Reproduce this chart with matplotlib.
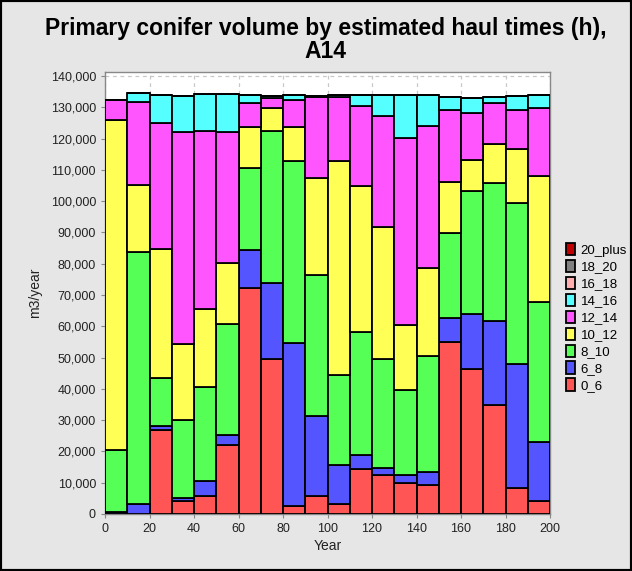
import matplotlib
matplotlib.use("Agg")
import matplotlib.pyplot as plt
import numpy as np
from matplotlib.patches import Rectangle

plt.rcParams['font.family'] = ['Liberation Sans', 'DejaVu Sans']

years = [0, 10, 20, 30, 40, 50, 60, 70, 80, 90, 100, 110, 120, 130, 140, 150, 160, 170, 180, 190]

h0_6 = [0, 0, 26700, 4000, 5900, 22000, 72400, 49400, 2400, 5850,
        3100, 14300, 12500, 9800, 9400, 55000, 46200, 34700, 8300, 4300]
h6_8 = [700, 3200, 1300, 1000, 4500, 3300, 12150, 24300, 52300, 25600,
        12600, 4600, 2100, 2700, 4100, 7500, 17800, 27000, 39800, 18800]
h8_10 = [19800, 80700, 15400, 25000, 30300, 35300, 26000, 48600, 58100, 45000,
         28600, 39400, 34800, 27100, 36900, 27300, 39100, 44000, 51400, 44700]
h10_12 = [105500, 21350, 41400, 24400, 24700, 19700, 13250, 7400, 10900, 30900,
          68500, 46400, 42300, 20800, 28200, 16300, 10200, 12700, 17300, 40400]
h12_14 = [6400, 26550, 40100, 67800, 57100, 41900, 7700, 3300, 8800, 25800,
          20500, 25800, 35600, 59700, 45400, 22900, 14800, 12900, 12500, 21700]
h14_16 = [0, 2900, 9200, 11500, 11800, 12100, 2550, 700, 1400, 600,
          600, 3300, 6600, 13800, 10000, 4200, 5000, 1900, 4300, 3900]
h16_18 = [0] * 20
h18_20 = [0] * 20
h20_plus = [0] * 20

series = [
    ("0_6", h0_6, "#ff5555"),
    ("6_8", h6_8, "#5555ff"),
    ("8_10", h8_10, "#55ff55"),
    ("10_12", h10_12, "#ffff55"),
    ("12_14", h12_14, "#ff55ff"),
    ("14_16", h14_16, "#55ffff"),
    ("16_18", h16_18, "#ffafaf"),
    ("18_20", h18_20, "#808080"),
    ("20_plus", h20_plus, "#c00000"),
]

fig = plt.figure(figsize=(6.32, 5.71), dpi=100, facecolor="#e6e6e6")
ax = fig.add_axes([105 / 632, 1 - 514 / 571, 445 / 632, (514 - 72) / 571])
ax.set_facecolor("white")

x = np.array(years, dtype=float)
bottom = np.zeros(len(years))
for name, vals, col in series:
    v = np.array(vals, dtype=float)
    ax.bar(x, v, width=10, bottom=bottom, align="edge", color=col,
           edgecolor="black", linewidth=1.3, zorder=3,
           label=name)
    bottom += v

ax.set_xlim(0, 200)
ax.set_ylim(0, 141300)
ax.set_xticks(range(0, 201, 20))
ax.set_yticks(range(0, 140001, 10000))
ax.yaxis.set_major_formatter(matplotlib.ticker.FuncFormatter(lambda v, p: f"{int(v):,}"))
ax.tick_params(labelsize=9, colors="#222222", length=3, color="#888888")
ax.grid(True, color="#c8c8c8", linestyle=(0, (3, 3)), linewidth=0.9, zorder=0)
for s in ax.spines.values():
    s.set_color("#888888")
    s.set_linewidth(1.0)

ax.set_xlabel("Year", fontsize=10, color="#222222", labelpad=3)
ax.set_ylabel("m3/year", fontsize=10, color="#222222", labelpad=6)

fig.text(0.515, 1 - 29 / 571, "Primary conifer volume by estimated haul times (h),",
         ha="center", va="center", fontsize=16.5, fontweight="bold")
fig.text(0.515, 1 - 51 / 571, "A14", ha="center", va="center",
         fontsize=16.5, fontweight="bold")

handles, labels = ax.get_legend_handles_labels()
leg = fig.legend(handles[::-1], labels[::-1], loc="upper left",
                 bbox_to_anchor=(566 / 632, 1 - 243 / 571), frameon=False,
                 fontsize=9.5, handlelength=0.65, handleheight=1.05,
                 handletextpad=0.45, labelspacing=0.25, borderpad=0,
                 borderaxespad=0)

fig.add_artist(Rectangle((0, 0), 1, 1, transform=fig.transFigure, fill=False,
                         edgecolor="black", linewidth=3))

fig.savefig("out.png", dpi=100, facecolor=fig.get_facecolor())
